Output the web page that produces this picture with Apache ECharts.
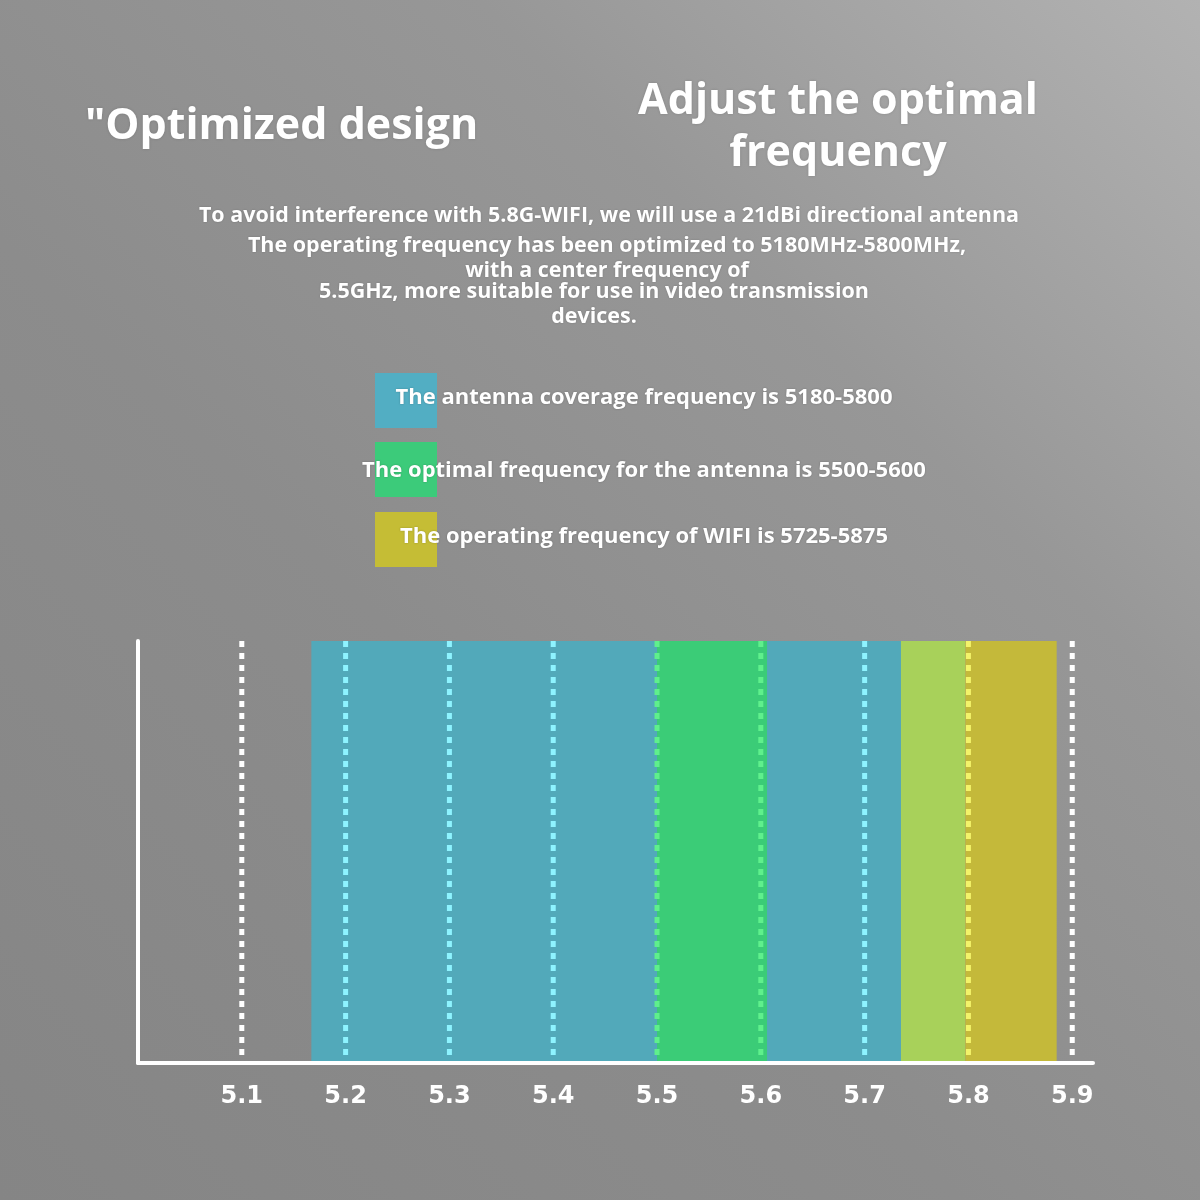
<!DOCTYPE html>
<html><head><meta charset="utf-8">
<script src="https://cdn.jsdelivr.net/npm/echarts@6/dist/echarts.min.js"></script>
<style>html,body{margin:0;padding:0;}#c{width:1200px;height:1200px;}</style>
</head><body><div id="c"></div>
<script>
// ---- data ----
var tickValues = [5.1, 5.2, 5.3, 5.4, 5.5, 5.6, 5.7, 5.8, 5.9];
var bandStarts = [5.167, 5.5, 5.735, 5.797];
var bandEnds   = [5.735, 5.606, 5.797, 5.885];
var bandNames  = ['coverage', 'optimal', 'overlap', 'wifi'];
var bandColors = ['#52a9ba', '#3bcc77', '#a8d15a', '#c4b93a'];
var dashColors = ['#8ef3ff', '#5ff08c', '#f3f36a', '#f3f36a'];
var legendTexts = [
  'The antenna coverage frequency is 5180-5800',
  'The optimal frequency for the antenna is 5500-5600',
  'The operating frequency of WIFI is 5725-5875'
];
var legendColors = ['#52aec3', '#3ccb7a', '#c5bd35'];
var paragraph = [
  'To avoid interference with 5.8G-WIFI, we will use a 21dBi directional antenna',
  'The operating frequency has been optimized to 5180MHz-5800MHz,',
  'with a center frequency of',
  '5.5GHz, more suitable for use in video transmission',
  'devices.'
];

var bandData = bandStarts.map(function (s, i) { return [s, bandEnds[i], i]; });

function dashColorFor(v) {
  var best = -1;
  for (var i = 0; i < bandStarts.length; i++) {
    if (v >= bandStarts[i] - 0.003 && v <= bandEnds[i] + 0.003) {
      if (i === 1) return dashColors[1];
      if (best < 0 || i > best) best = i;
    }
  }
  if (v > 5.88) return '#ffffff';
  return best < 0 ? '#ffffff' : dashColors[best];
}

var chart = echarts.init(document.getElementById('c'), null, {renderer: 'canvas'});
var font = '"Open Sans", "Noto Sans", sans-serif';
var shadow = {textShadowColor: 'rgba(0,0,0,0.15)', textShadowBlur: 3};
var graphics = [];
graphics.push({type: 'text', x: 85, y: 127, style: Object.assign({text: '"Optimized design', fill: '#fff', font: 'bold 43px ' + font, verticalAlign: 'middle'}, shadow)});
graphics.push({type: 'text', x: 838, y: 102, style: Object.assign({text: 'Adjust the optimal', fill: '#fff', font: 'bold 43px ' + font, align: 'center', verticalAlign: 'middle'}, shadow)});
graphics.push({type: 'text', x: 838, y: 154, style: Object.assign({text: 'frequency', fill: '#fff', font: 'bold 43px ' + font, align: 'center', verticalAlign: 'middle'}, shadow)});
var paraY = [216, 246, 271, 292, 317];
var paraX = [609, 607, 607, 594, 594];
paragraph.forEach(function (t, i) {
  graphics.push({type: 'text', x: paraX[i], y: paraY[i], style: {text: t, fill: '#fff', font: 'bold 21.5px ' + font, align: 'center', verticalAlign: 'middle', textShadowColor: 'rgba(0,0,0,0.2)', textShadowBlur: 2}});
});
var legY = [373, 442, 512];
var legTextY = [398, 471, 537];
var legTextX = [644, 644, 644];
legendColors.forEach(function (c, i) {
  graphics.push({type: 'rect', shape: {x: 375, y: legY[i], width: 62, height: 55}, style: {fill: c}});
});
legendTexts.forEach(function (t, i) {
  graphics.push({type: 'text', x: legTextX[i], y: legTextY[i], z: 10, style: {text: t, fill: '#fff', font: 'bold 22px ' + font, align: 'center', verticalAlign: 'middle', textShadowColor: 'rgba(0,0,0,0.25)', textShadowBlur: 2}});
});

var option = {
  backgroundColor: {
    type: 'linear', x: 1, y: 0, x2: 0, y2: 1,
    colorStops: [{offset: 0, color: '#b2b2b2'}, {offset: 0.3, color: '#979797'}, {offset: 0.6, color: '#8c8c8c'}, {offset: 1, color: '#858585'}]
  },
  animation: false,
  graphic: graphics,
  grid: {left: 138, right: 107, top: 641, bottom: 137},
  xAxis: {
    type: 'value', min: 5.0, max: 5.92, interval: 0.1,
    axisLine: {show: true, lineStyle: {color: '#ffffff', width: 4}},
    axisTick: {show: false},
    splitLine: {show: false},
    axisLabel: {
      showMinLabel: false, showMaxLabel: false, margin: 22,
      color: '#ffffff', fontSize: 24, fontWeight: 'bold', fontFamily: '"DejaVu Sans", sans-serif',
      formatter: function (v) { var r = Math.round(v * 10) / 10; return tickValues.indexOf(r) >= 0 ? r.toFixed(1) : ''; }
    }
  },
  yAxis: {
    type: 'value', min: 0, max: 1,
    axisLine: {show: true, lineStyle: {color: '#ffffff', width: 4}},
    axisTick: {show: false}, axisLabel: {show: false}, splitLine: {show: false}
  },
  series: [
    {
      type: 'custom', z: 2,
      data: bandData,
      encode: {x: [0, 1]},
      renderItem: function (params, api) {
        var p0 = api.coord([api.value(0), 1]);
        var p1 = api.coord([api.value(1), 0]);
        return {type: 'rect', shape: {x: p0[0], y: p0[1], width: p1[0] - p0[0], height: p1[1] - p0[1] - 2}, style: {fill: bandColors[api.value(2)]}};
      }
    },
    {
      type: 'custom', z: 3,
      data: tickValues.map(function (v) { return [v]; }),
      encode: {x: 0},
      renderItem: function (params, api) {
        var v = api.value(0);
        var p0 = api.coord([v, 1]);
        var p1 = api.coord([v, 0]);
        return {type: 'line', shape: {x1: p0[0], y1: p0[1], x2: p1[0], y2: p1[1] - 2}, style: {stroke: dashColorFor(v), lineWidth: 5, lineDash: [6, 6]}};
      }
    }
  ]
};
chart.setOption(option);
</script></body></html>
